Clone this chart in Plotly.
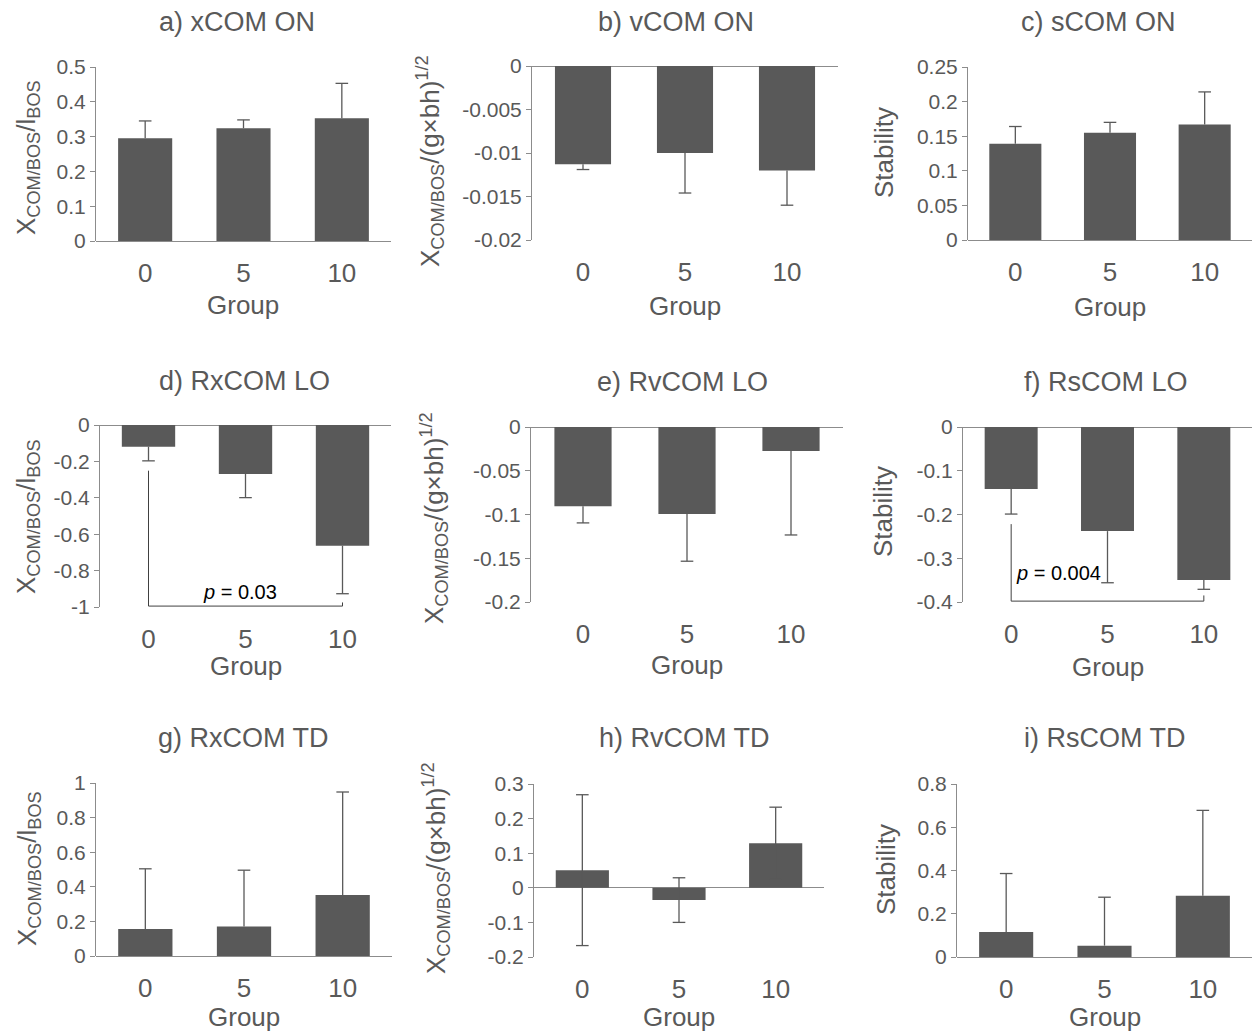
import plotly.graph_objects as go

W, H = 1252, 1035

groups = ["0", "5", "10"]

# panel titles
titles = ["a) xCOM ON", "b) vCOM ON", "c) sCOM ON",
          "d) RxCOM LO", "e) RvCOM LO", "f) RsCOM LO",
          "g) RxCOM TD", "h) RvCOM TD", "i) RsCOM TD"]

ylab_x = "X<sub>COM/BOS</sub>/l<sub>BOS</sub>"
ylab_v = "X<sub>COM/BOS</sub>/(g×bh)<sup>1/2</sup>"
ylab_s = "Stability"
ylabels = [ylab_x, ylab_v, ylab_s] * 3

# means
a_mean = [0.295, 0.324, 0.353]
b_mean = [-0.0113, -0.0100, -0.0120]
c_mean = [0.139, 0.155, 0.167]
d_mean = [-0.119, -0.269, -0.663]
e_mean = [-0.0906, -0.0994, -0.0274]
f_mean = [-0.142, -0.238, -0.350]
g_mean = [0.156, 0.170, 0.353]
h_mean = [0.051, -0.0355, 0.129]
i_mean = [0.116, 0.0525, 0.283]

# error magnitudes
a_err = [0.050, 0.024, 0.100]
b_err = [0.0006, 0.0046, 0.0040]
c_err = [0.025, 0.015, 0.047]
d_err = [0.078, 0.130, 0.264]
e_err = [0.019, 0.054, 0.096]
f_err = [0.057, 0.118, 0.021]
g_err = [0.348, 0.326, 0.595]
h_err = [0.218, 0.0645, 0.104]
i_err = [0.270, 0.224, 0.395]

means = [a_mean, b_mean, c_mean, d_mean, e_mean, f_mean, g_mean, h_mean, i_mean]
errs = [a_err, b_err, c_err, d_err, e_err, f_err, g_err, h_err, i_err]
err_dir = ["up", "down", "up", "down", "down", "down", "up", "both", "up"]

# y-axis ticks
a_ticks = [0, 0.1, 0.2, 0.3, 0.4, 0.5]
a_tick_text = ["0", "0.1", "0.2", "0.3", "0.4", "0.5"]
b_ticks = [-0.02, -0.015, -0.01, -0.005, 0]
b_tick_text = ["-0.02", "-0.015", "-0.01", "-0.005", "0"]
c_ticks = [0, 0.05, 0.1, 0.15, 0.2, 0.25]
c_tick_text = ["0", "0.05", "0.1", "0.15", "0.2", "0.25"]
d_ticks = [-1, -0.8, -0.6, -0.4, -0.2, 0]
d_tick_text = ["-1", "-0.8", "-0.6", "-0.4", "-0.2", "0"]
e_ticks = [-0.2, -0.15, -0.1, -0.05, 0]
e_tick_text = ["-0.2", "-0.15", "-0.1", "-0.05", "0"]
f_ticks = [-0.4, -0.3, -0.2, -0.1, 0]
f_tick_text = ["-0.4", "-0.3", "-0.2", "-0.1", "0"]
g_ticks = [0, 0.2, 0.4, 0.6, 0.8, 1]
g_tick_text = ["0", "0.2", "0.4", "0.6", "0.8", "1"]
h_ticks = [-0.2, -0.1, 0, 0.1, 0.2, 0.3]
h_tick_text = ["-0.2", "-0.1", "0", "0.1", "0.2", "0.3"]
i_ticks = [0, 0.2, 0.4, 0.6, 0.8]
i_tick_text = ["0", "0.2", "0.4", "0.6", "0.8"]

ticks = [a_ticks, b_ticks, c_ticks, d_ticks, e_ticks, f_ticks, g_ticks, h_ticks, i_ticks]
tick_texts = [a_tick_text, b_tick_text, c_tick_text, d_tick_text, e_tick_text,
              f_tick_text, g_tick_text, h_tick_text, i_tick_text]

# significance brackets: [left leg top, bottom, right leg top]
d_bracket_y = [-0.251, -0.995, -0.975]
d_p_label = "p = 0.03"
d_p_y = -0.919
f_bracket_y = [-0.222, -0.398, -0.385]
f_p_label = "p = 0.004"
f_p_y = -0.334

# ---------------- layout geometry (pixels) ----------------
boxes = [
    (96, 391, 67, 241), (532, 838, 66, 240), (968, 1252, 67, 240),
    (100, 391, 425, 607), (531, 843, 427, 602), (963, 1252, 427, 602),
    (96, 392, 783, 956), (534, 824, 784, 957), (957, 1252, 784, 957),
]
title_pos = [(237, 22), (676, 22), (1098, 22),
             (244, 381), (682, 382), (1106, 382),
             (243, 738), (684, 738), (1105, 738)]
ylab_pos = [(27, 158), (430, 161), (884, 153),
            (27, 517), (434, 518), (883, 512),
            (28, 869), (436, 868), (886, 870)]
group_off = [64, 66, 67, 59, 63, 65, 61, 60, 60]

TXT = "#595959"
AX = "#8c8c8c"
BAR = "#595959"
FONT = "Liberation Sans, Arial, sans-serif"

fig = go.Figure()
annotations = []

for k in range(9):
    n = k + 1
    xa = "x" if n == 1 else f"x{n}"
    ya = "y" if n == 1 else f"y{n}"
    e = errs[k]
    m = means[k]
    zeros = [0, 0, 0]
    if err_dir[k] == "up":
        ey = dict(type="data", symmetric=False, array=e, arrayminus=zeros)
        cap_x, cap_y = groups, [mi + ei for mi, ei in zip(m, e)]
    elif err_dir[k] == "down":
        ey = dict(type="data", symmetric=False, array=zeros, arrayminus=e)
        cap_x, cap_y = groups, [mi - ei for mi, ei in zip(m, e)]
    else:
        ey = dict(type="data", symmetric=True, array=e)
        cap_x = groups + groups
        cap_y = [mi + ei for mi, ei in zip(m, e)] + [mi - ei for mi, ei in zip(m, e)]
    ey.update(color=BAR, thickness=1.3, width=0)
    fig.add_trace(go.Bar(x=groups, y=m, xaxis=xa, yaxis=ya,
                         marker=dict(color=BAR, line=dict(width=0)),
                         error_y=ey, showlegend=False, hoverinfo="skip"))
    fig.add_trace(go.Scatter(x=cap_x, y=cap_y, xaxis=xa, yaxis=ya, mode="markers",
                             marker=dict(symbol="line-ew", size=9,
                                         line=dict(color=BAR, width=1.3)),
                             showlegend=False, hoverinfo="skip", cliponaxis=False))

    x0, x1, y0, y1 = boxes[k]
    xkey = "xaxis" if n == 1 else f"xaxis{n}"
    ykey = "yaxis" if n == 1 else f"yaxis{n}"
    fig.layout[xkey] = dict(domain=[x0 / W, x1 / W], anchor=ya, type="category",
                            range=[-0.5, 2.5], showline=False, showgrid=False,
                            zeroline=False, ticks="outside", ticklen=9,
                            tickcolor="rgba(0,0,0,0)",
                            tickfont=dict(size=26, color=TXT, family=FONT),
                            fixedrange=True, automargin=False)
    tv = ticks[k]
    fig.layout[ykey] = dict(domain=[1 - y1 / H, 1 - y0 / H], anchor=xa,
                            range=[tv[0], tv[-1]], showline=True, linecolor=AX,
                            linewidth=1, ticks="outside", ticklen=5, tickcolor=AX,
                            tickvals=tv, ticktext=tick_texts[k],
                            tickfont=dict(size=21, color=TXT, family=FONT),
                            showgrid=False, zeroline=True, zerolinecolor=AX,
                            zerolinewidth=1, fixedrange=True, automargin=False)

    tx, ty = title_pos[k]
    annotations.append(dict(text=titles[k], x=tx / W, y=1 - ty / H, xref="paper",
                            yref="paper", xanchor="center", yanchor="middle",
                            showarrow=False, font=dict(size=27, color=TXT, family=FONT)))
    lx, ly = ylab_pos[k]
    annotations.append(dict(text=ylabels[k], x=lx / W, y=1 - ly / H, xref="paper",
                            yref="paper", xanchor="center", yanchor="middle",
                            textangle=-90, showarrow=False,
                            font=dict(size=26, color=TXT, family=FONT)))
    annotations.append(dict(text="Group", x=(x0 + x1) / 2 / W,
                            y=1 - (y1 + group_off[k]) / H, xref="paper", yref="paper",
                            xanchor="center", yanchor="middle", showarrow=False,
                            font=dict(size=26, color=TXT, family=FONT)))

# brackets
for n, by, lab, py, xi, xs, anc in [(4, d_bracket_y, d_p_label, d_p_y, 1, -6, "center"),
                                     (6, f_bracket_y, f_p_label, f_p_y, 0, 3, "left")]:
    xa, ya = f"x{n}", f"y{n}"
    fig.add_trace(go.Scatter(x=[groups[0], groups[0], groups[2], groups[2]],
                             y=[by[0], by[1], by[1], by[2]], mode="lines",
                             line=dict(color="#404040", width=1), xaxis=xa, yaxis=ya,
                             showlegend=False, hoverinfo="skip"))
    p, rest = lab.split(" ", 1)
    annotations.append(dict(text=f"<i>{p}</i> {rest}", x=xi, y=py,
                            xref=xa, yref=ya, xanchor=anc, yanchor="middle",
                            xshift=xs, showarrow=False,
                            font=dict(size=20, color="#000000", family=FONT)))

fig.update_layout(width=W, height=H, margin=dict(l=0, r=0, t=0, b=0, autoexpand=False),
                  paper_bgcolor="white", plot_bgcolor="white", bargap=0.45,
                  annotations=annotations, showlegend=False,
                  font=dict(family=FONT, color=TXT))

fig.write_html("out.html")
